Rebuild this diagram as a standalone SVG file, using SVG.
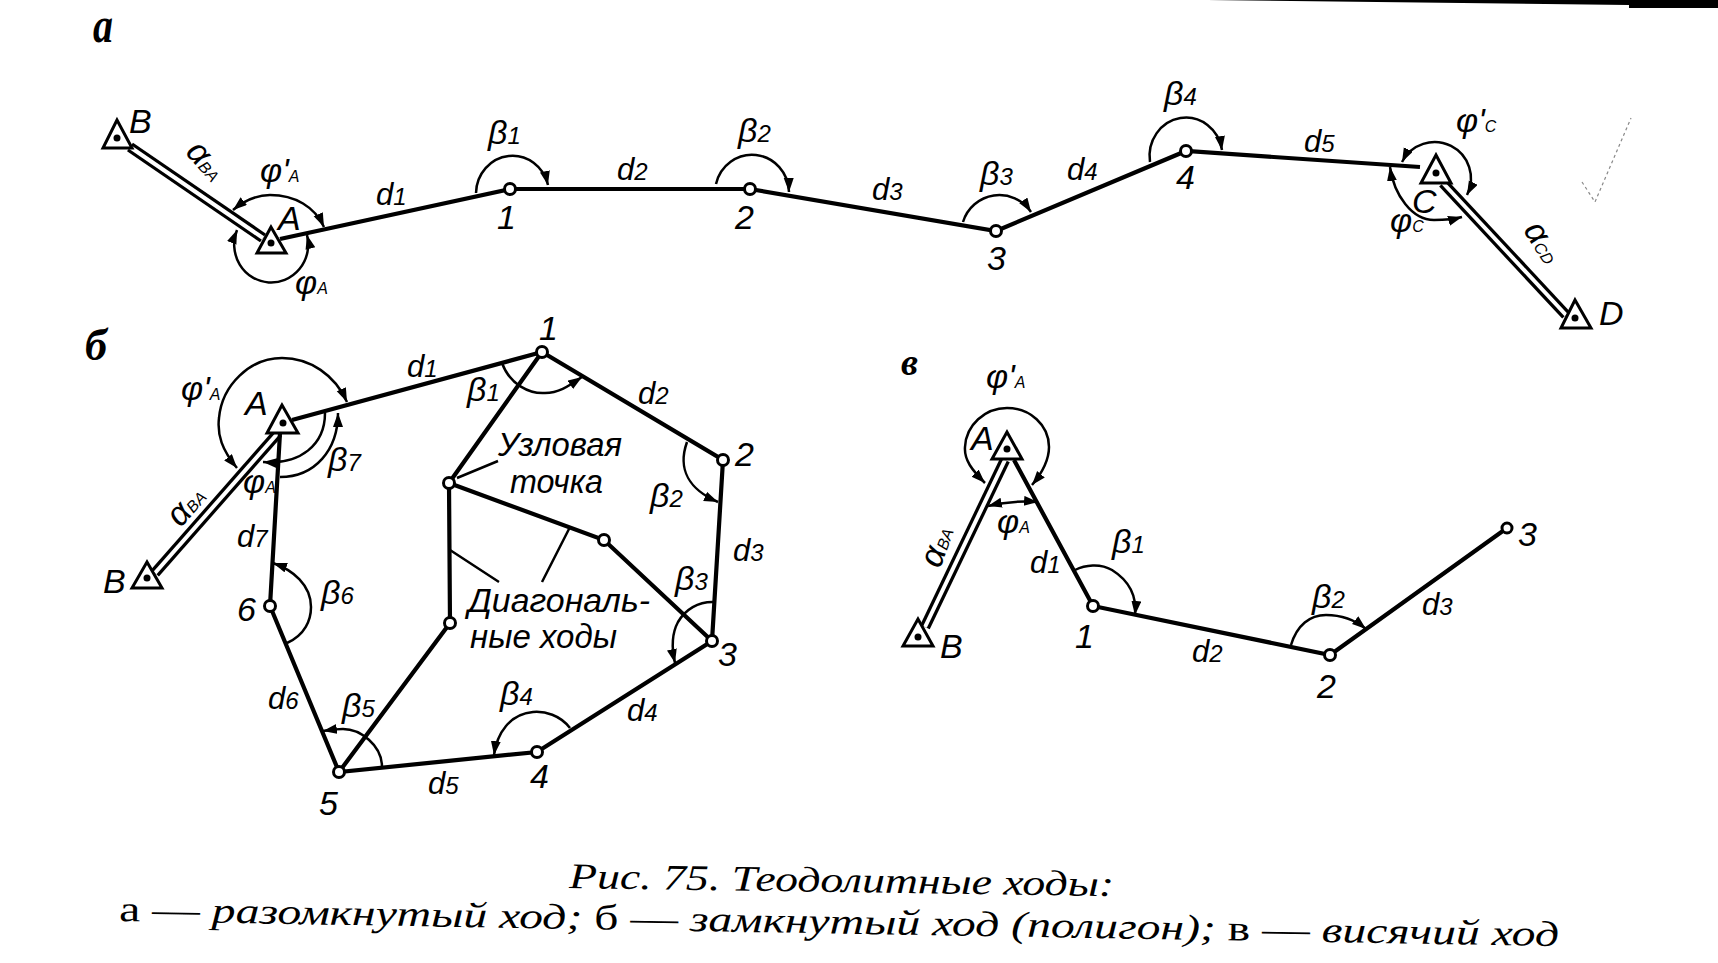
<svg xmlns="http://www.w3.org/2000/svg" width="1718" height="963" viewBox="0 0 1718 963">
<style>
text{font-family:"Liberation Sans",Arial,sans-serif;font-style:italic;fill:#000}
.n{font-size:34px}
.d{font-size:31px}
.g{font-size:34px}
.s{font-size:24px}
.ss{font-size:16px}
.t{font-size:33px}
.p{font-family:"Liberation Serif",serif;font-weight:bold}
.c{font-family:"Liberation Serif",serif;font-size:36px}
.u{font-style:normal}
.m{fill:none;stroke:#000;stroke-width:4.2}
.thin{fill:none;stroke:#000;stroke-width:2.5}
.arc{fill:none;stroke:#000;stroke-width:2.5;marker-end:url(#ah)}
.arc2{fill:none;stroke:#000;stroke-width:2.5;marker-end:url(#ah);marker-start:url(#ah)}
.db1{fill:none;stroke:#000;stroke-width:10.5}
.db2{fill:none;stroke:#fff;stroke-width:4}
.st{fill:#fff;stroke:#000;stroke-width:3}
.dot{fill:#000}
.o{fill:#fff;stroke:#000;stroke-width:3}
</style>
<defs>
<marker id="ah" markerUnits="userSpaceOnUse" markerWidth="16" markerHeight="12" refX="14" refY="5" orient="auto-start-reverse"><path d="M0 0L14 5L0 10Z" fill="#000"/></marker>
</defs>
<rect width="1718" height="963" fill="#fff"/>
<path d="M1207 0L1629 5V0Z" fill="#000"/><rect x="1629" y="0" width="89" height="8" fill="#000"/>
<path d="M1582 182L1595 202L1631 118" fill="none" stroke="#888" stroke-width="1.2" stroke-dasharray="3 3"/>

<g id="connectors">
<path class="db1" d="M130 147L263 238"/><path class="db2" d="M130 147L263 238"/>
<path class="db1" d="M1443 183L1566 315"/><path class="db2" d="M1443 183L1566 315"/>
<path class="m" d="M280 239L510 189L750 189L996 231L1186 151L1420 167"/>
<path class="arc2" d="M233 210C245 200 258 195 270 195C295 195 315 207 324 227"/>
<path class="arc2" d="M237 230A37 38 0 1 0 307 235"/>
<path class="arc" d="M476 193A36.5 38 0 0 1 548 185"/>
<path class="arc" d="M716 184A37 38 0 0 1 789 192"/>
<path class="arc" d="M963 222A38 38 0 0 1 1031 212"/>
<path class="arc" d="M1150 162A36 38 0 1 1 1222 150"/>
<path class="arc2" d="M1402 162A36 36 0 1 1 1467 195"/>
<path class="arc2" d="M1390 167C1394 195 1412 220 1434 220C1445 220 1455 219 1462 217"/>

<path class="db1" d="M278 433L155 573"/><path class="db2" d="M278 433L155 573"/>
<path class="m" d="M292 420L542 352L723 460L712 641L537 752L339 772L270 606L280 433"/>
<path class="m" d="M542 352L449 483L450 623L339 772M449 483L604 540L712 641"/>
<path class="thin" d="M457 478L498 461M450 550L499 582M570 527L542 582"/>
<path class="arc2" d="M237 468C222 450 217 435 219 418C222 385 250 358 282 358C310 358 335 375 347 402"/>
<path class="arc" d="M280 477C315 477 338 450 338 413"/>
<path class="arc" d="M325 413C325 445 300 465 263 462"/>
<path class="arc" d="M287 643C305 635 311 620 311 607C311 585 293 570 273 563"/>
<path class="arc" d="M382 767C382 745 360 729 343 729C335 729 330 730 323 731"/>
<path class="arc" d="M502 363C510 385 530 394 545 393C560 393 570 385 582 377"/>
<path class="arc" d="M687 442C677 470 690 490 718 502"/>
<path class="arc" d="M715 602C698 601 685 610 678 622C671 635 672 650 675 663"/>
<path class="arc" d="M570 728C560 715 545 711 533 712C510 714 497 733 494 755"/>

<path class="db1" d="M1005 460L925 627"/><path class="db2" d="M1005 460L925 627"/>
<path class="m" d="M1014 460L1093 606L1330 655L1507 528"/>
<path class="arc2" d="M985 483C972 470 964 460 965 447C966 425 985 408 1007 408C1030 408 1049 425 1049 447C1049 460 1042 473 1032 485"/>
<path class="arc2" d="M988 506Q1013 500 1038 502"/>
<path class="arc" d="M1075 570C1085 565 1100 563 1112 570C1128 580 1137 595 1135 615"/>
<path class="arc" d="M1291 645C1297 625 1310 615 1326 615C1342 615 1355 620 1366 629"/>
</g>

<text id="label-a" class="p" x="93" y="42" font-size="50" textLength="20" lengthAdjust="spacingAndGlyphs">а</text>
<text id="label-b" class="p" x="85" y="360" font-size="44">б</text>
<text id="label-v" class="p" x="901" y="375" font-size="38">в</text>

<g id="a-nodes">
<g id="a-B"><path class="st" d="M117 120L103 148H132Z"/><circle class="dot" cx="117" cy="138" r="3.5"/><text class="n" x="129" y="133">B</text></g>
<g id="a-A"><path class="st" d="M271 227L257 253H286Z"/><circle class="dot" cx="271" cy="243" r="3.5"/><text class="n" x="278" y="230">A</text></g>
<g id="a-1"><circle class="o" cx="510" cy="189" r="5.5"/><text class="n" x="497" y="229">1</text></g>
<g id="a-2"><circle class="o" cx="750" cy="189" r="5.5"/><text class="n" x="735" y="229">2</text></g>
<g id="a-3"><circle class="o" cx="996" cy="231" r="5.5"/><text class="n" x="987" y="270">3</text></g>
<g id="a-4"><circle class="o" cx="1186" cy="151" r="5.5"/><text class="n" x="1176" y="189">4</text></g>
<g id="a-C"><path class="st" d="M1436 155L1421 183H1451Z"/><circle class="dot" cx="1436" cy="173" r="3.5"/><text class="n" x="1412" y="213">C</text></g>
<g id="a-D"><path class="st" d="M1575 300L1561 328H1591Z"/><circle class="dot" cx="1575" cy="318" r="3.5"/><text class="n" x="1599" y="325">D</text></g>
</g>
<g id="a-labels">
<text class="d" x="376" y="205">d<tspan class="s">1</tspan></text>
<text class="d" x="617" y="180">d<tspan class="s">2</tspan></text>
<text class="d" x="872" y="200">d<tspan class="s">3</tspan></text>
<text class="d" x="1067" y="180">d<tspan class="s">4</tspan></text>
<text class="d" x="1304" y="152">d<tspan class="s">5</tspan></text>
<text class="g" x="488" y="144">β<tspan class="s">1</tspan></text>
<text class="g" x="738" y="142">β<tspan class="s">2</tspan></text>
<text class="g" x="980" y="185">β<tspan class="s">3</tspan></text>
<text class="g" x="1164" y="105">β<tspan class="s">4</tspan></text>
<text class="g" x="260" y="182">φ'<tspan class="ss">A</tspan></text>
<text class="g" x="295" y="294">φ<tspan class="ss">A</tspan></text>
<text class="g" x="1456" y="132">φ'<tspan class="ss">C</tspan></text>
<text class="g" x="1390" y="232">φ<tspan class="ss">C</tspan></text>
<text class="g" text-anchor="middle" transform="translate(198 168) rotate(48)">α<tspan class="ss">BA</tspan></text>
<text class="g" text-anchor="middle" transform="translate(1534 248) rotate(58)">α<tspan class="ss">CD</tspan></text>
</g>

<g id="b-nodes">
<g id="b-A"><path class="st" d="M282 405L267 433H298Z"/><circle class="dot" cx="283" cy="423" r="3.5"/><text class="n" x="245" y="415">A</text></g>
<g id="b-B"><path class="st" d="M147 562L132 588H162Z"/><circle class="dot" cx="147" cy="578" r="3.5"/><text class="n" x="103" y="593">B</text></g>
<g id="b-1"><circle class="o" cx="542" cy="352" r="5.5"/><text class="n" x="539" y="340">1</text></g>
<g id="b-2"><circle class="o" cx="723" cy="460" r="5.5"/><text class="n" x="735" y="466">2</text></g>
<g id="b-3"><circle class="o" cx="712" cy="641" r="5.5"/><text class="n" x="718" y="666">3</text></g>
<g id="b-4"><circle class="o" cx="537" cy="752" r="5.5"/><text class="n" x="530" y="788">4</text></g>
<g id="b-5"><circle class="o" cx="339" cy="772" r="5.5"/><text class="n" x="319" y="815">5</text></g>
<g id="b-6"><circle class="o" cx="270" cy="606" r="5.5"/><text class="n" x="237" y="621">6</text></g>
<g id="b-j"><circle class="o" cx="449" cy="483" r="5.5"/></g>
<g id="b-m1"><circle class="o" cx="604" cy="540" r="5.5"/></g>
<g id="b-m2"><circle class="o" cx="450" cy="623" r="5.5"/></g>
</g>
<g id="b-labels">
<text class="d" x="407" y="377">d<tspan class="s">1</tspan></text>
<text class="d" x="638" y="404">d<tspan class="s">2</tspan></text>
<text class="d" x="733" y="561">d<tspan class="s">3</tspan></text>
<text class="d" x="627" y="721">d<tspan class="s">4</tspan></text>
<text class="d" x="428" y="794">d<tspan class="s">5</tspan></text>
<text class="d" x="268" y="709">d<tspan class="s">6</tspan></text>
<text class="d" x="237" y="547">d<tspan class="s">7</tspan></text>
<text class="g" x="467" y="401">β<tspan class="s">1</tspan></text>
<text class="g" x="650" y="507">β<tspan class="s">2</tspan></text>
<text class="g" x="675" y="590">β<tspan class="s">3</tspan></text>
<text class="g" x="500" y="705">β<tspan class="s">4</tspan></text>
<text class="g" x="342" y="717">β<tspan class="s">5</tspan></text>
<text class="g" x="321" y="604">β<tspan class="s">6</tspan></text>
<text class="g" x="328" y="471">β<tspan class="s">7</tspan></text>
<text class="g" x="181" y="400">φ'<tspan class="ss">A</tspan></text>
<text class="g" x="243" y="493">φ<tspan class="ss">A</tspan></text>
<text class="g" text-anchor="middle" transform="translate(194 513) rotate(-48)">α<tspan class="ss">BA</tspan></text>
<text class="t" x="498" y="456" textLength="124" lengthAdjust="spacingAndGlyphs">Узловая</text>
<text class="t" x="510" y="493" textLength="93" lengthAdjust="spacingAndGlyphs">точка</text>
<text class="t" x="468" y="612" textLength="182" lengthAdjust="spacingAndGlyphs">Диагональ-</text>
<text class="t" x="470" y="648" textLength="147" lengthAdjust="spacingAndGlyphs">ные ходы</text>
</g>

<g id="v-nodes">
<g id="v-A"><path class="st" d="M1007 432L992 459H1022Z"/><circle class="dot" cx="1007" cy="449" r="3.5"/><text class="n" x="971" y="450">A</text></g>
<g id="v-B"><path class="st" d="M918 619L903 646H933Z"/><circle class="dot" cx="918" cy="637" r="3.5"/><text class="n" x="940" y="658">B</text></g>
<g id="v-1"><circle class="o" cx="1093" cy="606" r="5.5"/><text class="n" x="1075" y="648">1</text></g>
<g id="v-2"><circle class="o" cx="1330" cy="655" r="5.5"/><text class="n" x="1317" y="698">2</text></g>
<g id="v-3"><circle class="o" cx="1507" cy="528" r="5"/><text class="n" x="1518" y="546">3</text></g>
</g>
<g id="v-labels">
<text class="d" x="1030" y="573">d<tspan class="s">1</tspan></text>
<text class="d" x="1192" y="662">d<tspan class="s">2</tspan></text>
<text class="d" x="1422" y="615">d<tspan class="s">3</tspan></text>
<text class="g" x="1112" y="553">β<tspan class="s">1</tspan></text>
<text class="g" x="1312" y="608">β<tspan class="s">2</tspan></text>
<text class="g" x="986" y="388">φ'<tspan class="ss">A</tspan></text>
<text class="g" x="997" y="533">φ<tspan class="ss">A</tspan></text>
<text class="g" text-anchor="middle" transform="translate(947 550) rotate(-70)">α<tspan class="ss">BA</tspan></text>
</g>

<g id="caption">
<text class="c" transform="translate(569 888) rotate(0.85)" textLength="545" lengthAdjust="spacingAndGlyphs">Рис. 75. Теодолитные ходы:</text>
<text class="c" transform="translate(119 921) rotate(1)" textLength="1440" lengthAdjust="spacingAndGlyphs"><tspan class="u">а — </tspan>разомкнутый ход; <tspan class="u">б — </tspan>замкнутый ход (полигон); <tspan class="u">в — </tspan>висячий ход</text>
</g>
</svg>
